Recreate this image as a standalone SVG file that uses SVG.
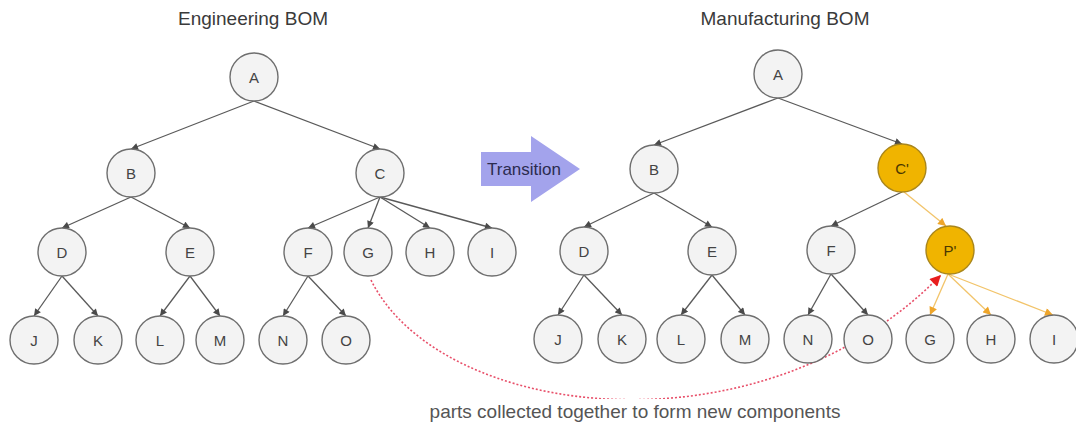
<svg xmlns="http://www.w3.org/2000/svg" width="1076" height="423" viewBox="0 0 1076 423">
  <style>
    .title { font-family: "Liberation Sans", Arial, sans-serif; font-size: 19px; fill: #3a3a3a; text-anchor: middle; }
    .node circle { fill: #f3f3f3; stroke: #6e6e6e; stroke-width: 1.4; }
    .node text { font-family: "Liberation Sans", Arial, sans-serif; font-size: 15px; fill: #444; text-anchor: middle; dominant-baseline: central; }
    .node.new circle { fill: #f0b400; stroke: #a9861c; }
    .node.new text { fill: #4a3800; }
    .edge { stroke: #5a5a5a; stroke-width: 1.3; fill: none; marker-end: url(#arrow); }
    .edge.new { stroke: #f2c46a; marker-end: url(#arrowOrange); }
    .collect { stroke: #e8506a; stroke-width: 1.6; stroke-dasharray: 2 2; fill: none; marker-end: url(#arrowRed); }
    .note { font-family: "Liberation Sans", Arial, sans-serif; font-size: 19px; fill: #555; text-anchor: middle; }
  </style>
  <defs>
    <marker id="arrow" viewBox="0 0 10 10" refX="10" refY="5" markerWidth="8" markerHeight="7" markerUnits="userSpaceOnUse" orient="auto">
      <path d="M0,0 L10,5 L0,10 z" fill="#4a4a4a"/>
    </marker>
    <marker id="arrowOrange" viewBox="0 0 10 10" refX="10" refY="5" markerWidth="9" markerHeight="8" markerUnits="userSpaceOnUse" orient="auto">
      <path d="M0,0 L10,5 L0,10 z" fill="#eea52a"/>
    </marker>
    <marker id="arrowRed" viewBox="0 0 10 10" refX="10" refY="5" markerWidth="12" markerHeight="11" markerUnits="userSpaceOnUse" orient="auto">
      <path d="M0,0 L10,5 L0,10 z" fill="#e81c1c"/>
    </marker>
  </defs>

  <rect width="1076" height="423" fill="#ffffff"/>

  <!-- headings -->
  <text class="title" x="253" y="25">Engineering BOM</text>
  <text class="title" x="785" y="25">Manufacturing BOM</text>

  <!-- transition block arrow -->
  <g id="transition">
    <polygon points="481,152 531,152 531,136 580,169 531,202 531,186 481,186" fill="#a3a3ec"/>
    <text x="524" y="175" font-family="Liberation Sans, Arial, sans-serif" font-size="17" fill="#2c2c50" text-anchor="middle">Transition</text>
  </g>

  <!-- connectors -->
  <g id="connectors">
    <!-- engineering tree -->
    <line class="edge" x1="254" y1="101" x2="131" y2="149"/>
    <line class="edge" x1="254" y1="101" x2="380" y2="149"/>
    <line class="edge" x1="131" y1="197" x2="62" y2="228"/>
    <line class="edge" x1="131" y1="197" x2="190" y2="228"/>
    <line class="edge" x1="380" y1="197" x2="308" y2="228"/>
    <line class="edge" x1="380" y1="197" x2="368" y2="228"/>
    <line class="edge" x1="380" y1="197" x2="430" y2="228"/>
    <line class="edge" x1="380" y1="197" x2="492" y2="228"/>
    <line class="edge" x1="62" y1="276" x2="34" y2="316"/>
    <line class="edge" x1="62" y1="276" x2="98" y2="316"/>
    <line class="edge" x1="190" y1="276" x2="160" y2="316"/>
    <line class="edge" x1="190" y1="276" x2="220" y2="316"/>
    <line class="edge" x1="308" y1="276" x2="283" y2="316"/>
    <line class="edge" x1="308" y1="276" x2="346" y2="316"/>
    <!-- manufacturing tree -->
    <line class="edge" x1="778" y1="98" x2="654" y2="145"/>
    <line class="edge" x1="778" y1="98" x2="902" y2="144"/>
    <line class="edge" x1="654" y1="193" x2="584" y2="227"/>
    <line class="edge" x1="654" y1="193" x2="712" y2="227"/>
    <line class="edge" x1="902" y1="192" x2="831" y2="226"/>
    <line class="edge new" x1="904" y1="192" x2="946" y2="226"/>
    <line class="edge" x1="584" y1="275" x2="558" y2="315"/>
    <line class="edge" x1="584" y1="275" x2="622" y2="315"/>
    <line class="edge" x1="712" y1="275" x2="681" y2="315"/>
    <line class="edge" x1="712" y1="275" x2="745" y2="315"/>
    <line class="edge" x1="831" y1="274" x2="808" y2="315"/>
    <line class="edge" x1="831" y1="274" x2="868" y2="315"/>
    <line class="edge new" x1="948" y1="274" x2="930" y2="315"/>
    <line class="edge new" x1="948" y1="274" x2="991" y2="315"/>
    <line class="edge new" x1="948" y1="274" x2="1053" y2="315"/>
    <!-- parts regrouped under the new component -->
    <path class="collect" d="M371,280 C440,420 760,460 941,275"/>
  </g>

  <!-- engineering BOM nodes -->
  <g id="eA" class="node"><circle cx="254" cy="77" r="24"/><text x="254" y="77">A</text></g>
  <g id="eB" class="node"><circle cx="131" cy="173" r="24"/><text x="131" y="173">B</text></g>
  <g id="eC" class="node"><circle cx="380" cy="173" r="24"/><text x="380" y="173">C</text></g>
  <g id="eD" class="node"><circle cx="62" cy="252" r="24"/><text x="62" y="252">D</text></g>
  <g id="eE" class="node"><circle cx="190" cy="252" r="24"/><text x="190" y="252">E</text></g>
  <g id="eF" class="node"><circle cx="308" cy="252" r="24"/><text x="308" y="252">F</text></g>
  <g id="eG" class="node"><circle cx="368" cy="252" r="24"/><text x="368" y="252">G</text></g>
  <g id="eH" class="node"><circle cx="430" cy="252" r="24"/><text x="430" y="252">H</text></g>
  <g id="eI" class="node"><circle cx="492" cy="252" r="24"/><text x="492" y="252">I</text></g>
  <g id="eJ" class="node"><circle cx="34" cy="340" r="24"/><text x="34" y="340">J</text></g>
  <g id="eK" class="node"><circle cx="98" cy="340" r="24"/><text x="98" y="340">K</text></g>
  <g id="eL" class="node"><circle cx="160" cy="340" r="24"/><text x="160" y="340">L</text></g>
  <g id="eM" class="node"><circle cx="220" cy="340" r="24"/><text x="220" y="340">M</text></g>
  <g id="eN" class="node"><circle cx="283" cy="340" r="24"/><text x="283" y="340">N</text></g>
  <g id="eO" class="node"><circle cx="346" cy="340" r="24"/><text x="346" y="340">O</text></g>

  <!-- manufacturing BOM nodes -->
  <g id="mA" class="node"><circle cx="778" cy="74" r="24"/><text x="778" y="74">A</text></g>
  <g id="mB" class="node"><circle cx="654" cy="169" r="24"/><text x="654" y="169">B</text></g>
  <g id="mC" class="node new"><circle cx="902" cy="168" r="24"/><text x="902" y="168">C'</text></g>
  <g id="mD" class="node"><circle cx="584" cy="251" r="24"/><text x="584" y="251">D</text></g>
  <g id="mE" class="node"><circle cx="712" cy="251" r="24"/><text x="712" y="251">E</text></g>
  <g id="mF" class="node"><circle cx="831" cy="250" r="24"/><text x="831" y="250">F</text></g>
  <g id="mP" class="node new"><circle cx="950" cy="250" r="24"/><text x="950" y="250">P'</text></g>
  <g id="mJ" class="node"><circle cx="558" cy="339" r="24"/><text x="558" y="339">J</text></g>
  <g id="mK" class="node"><circle cx="622" cy="339" r="24"/><text x="622" y="339">K</text></g>
  <g id="mL" class="node"><circle cx="681" cy="339" r="24"/><text x="681" y="339">L</text></g>
  <g id="mM" class="node"><circle cx="745" cy="339" r="24"/><text x="745" y="339">M</text></g>
  <g id="mN" class="node"><circle cx="808" cy="339" r="24"/><text x="808" y="339">N</text></g>
  <g id="mO" class="node"><circle cx="868" cy="339" r="24"/><text x="868" y="339">O</text></g>
  <g id="mG" class="node"><circle cx="930" cy="339" r="24"/><text x="930" y="339">G</text></g>
  <g id="mH" class="node"><circle cx="991" cy="339" r="24"/><text x="991" y="339">H</text></g>
  <g id="mI" class="node"><circle cx="1054" cy="339" r="24"/><text x="1054" y="339">I</text></g>

  <!-- caption box sits over the dotted curve -->
  <g id="caption">
    <rect x="425" y="399" width="420" height="24" fill="#ffffff"/>
    <text class="note" x="635" y="418">parts collected together to form new components</text>
  </g>
</svg>
